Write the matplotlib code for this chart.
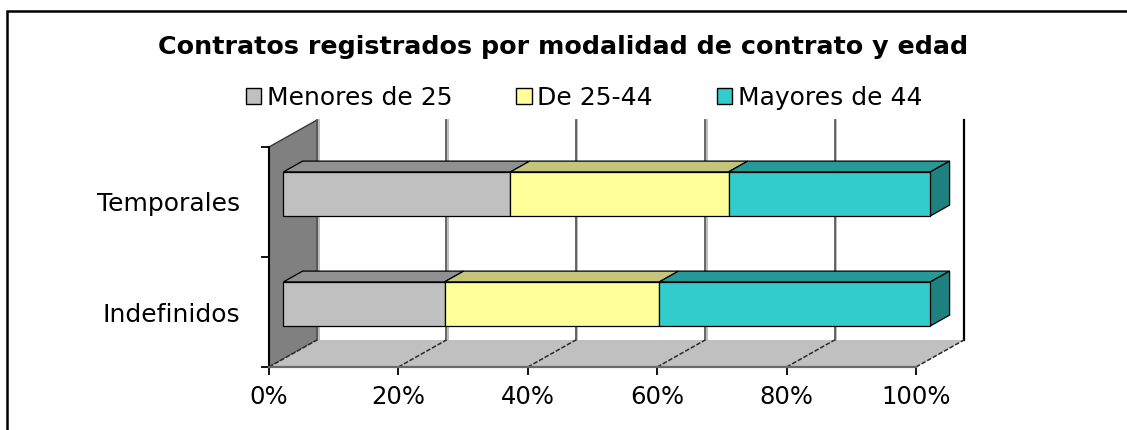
import matplotlib
matplotlib.use('Agg')
import matplotlib.pyplot as plt
from matplotlib.patches import Polygon, Rectangle, Patch
import matplotlib.transforms as mtransforms
import numpy as np

# ---------------- data ----------------
categories = ['Indefinidos', 'Temporales']
series_names = ['Menores de 25', 'De 25-44', 'Mayores de 44']
menores_25 = [24.9, 35.1]
de_25_44 = [33.2, 33.7]
mayores_44 = [41.9, 31.2]
x_ticks = [0, 20, 40, 60, 80, 100]
x_tick_labels = ['0%', '20%', '40%', '60%', '80%', '100%']
title = 'Contratos registrados por modalidad de contrato y edad'

# ---------------- style ----------------
front_colors = ['#C0C0C0', '#FFFF99', '#33CCCC']
top_colors = ['#909090', '#C4C47A', '#269999']
side_colors = ['#808080', '#B0B070', '#1F8080']

W, H = 1127, 430
fig = plt.figure(figsize=(W / 100, H / 100), dpi=100)
fig.patch.set_facecolor('white')
plt.rcParams['font.family'] = ['DejaVu Sans']

# front plane of the 3D box
ax = fig.add_axes([269 / W, (H - 367) / H, 647 / W, 220 / H])
ax.patch.set_visible(False)
xmin, xmax = 0, 100
ymin, ymax = -0.5, len(categories) - 0.5
ax.set_xlim(xmin, xmax)
ax.set_ylim(ymin, ymax)

# depth offsets in data units
DX = 48 / 647 * 100
DY = 27 / 110
F0, F1 = 0.3, 0.7     # bar depth start / end (fraction of depth)
BH = 0.4              # bar thickness (category units)

# left wall
ax.add_patch(Polygon([(xmin, ymin), (xmin, ymax), (xmin + DX, ymax + DY), (xmin + DX, ymin + DY)],
                     closed=True, facecolor='#808080', edgecolor='#3a3a3a', lw=1.0,
                     clip_on=False, zorder=1))
# floor
ax.add_patch(Polygon([(xmin, ymin), (xmax, ymin), (xmax + DX, ymin + DY), (xmin + DX, ymin + DY)],
                     closed=True, facecolor='#C0C0C0', edgecolor='none',
                     clip_on=False, zorder=1))

# back-wall gridlines with shadow
shadow_tr = mtransforms.offset_copy(ax.transData, fig=fig, x=1.6, y=0, units='dots')
for t in x_ticks:
    if t == xmax:
        continue
    ax.plot([t + DX, t + DX], [ymin + DY, ymax + DY], color='#BDBDBD', lw=1.4,
            transform=shadow_tr, clip_on=False, zorder=1.2)
    ax.plot([t + DX, t + DX], [ymin + DY, ymax + DY], color='#5A5A5A', lw=1.3,
            clip_on=False, zorder=1.3)
# right back edge
ax.plot([xmax + DX, xmax + DX], [ymin + DY, ymax + DY], color='black', lw=1.6,
        clip_on=False, zorder=1.3)
# floor gridlines (slanted)
for t in x_ticks:
    ax.plot([t, t + DX], [ymin, ymin + DY], color='#2a2a2a', lw=1.1,
            ls=(0, (3, 1.2)), clip_on=False, zorder=1.4)

# bars
series = [menores_25, de_25_44, mayores_44]
for i, cat in enumerate(categories):
    left = 0.0
    for j, vals in enumerate(series):
        v = vals[i]
        l, r = left, left + v
        yb, yt = i - BH / 2, i + BH / 2
        # top face
        ax.add_patch(Polygon([(l + F0 * DX, yt + F0 * DY), (r + F0 * DX, yt + F0 * DY),
                              (r + F1 * DX, yt + F1 * DY), (l + F1 * DX, yt + F1 * DY)],
                             closed=True, facecolor=top_colors[j], edgecolor='black',
                             lw=0.9, clip_on=False, zorder=3))
        # front face
        ax.add_patch(Polygon([(l + F0 * DX, yb + F0 * DY), (r + F0 * DX, yb + F0 * DY),
                              (r + F0 * DX, yt + F0 * DY), (l + F0 * DX, yt + F0 * DY)],
                             closed=True, facecolor=front_colors[j], edgecolor='black',
                             lw=0.9, clip_on=False, zorder=3.2))
        if j == len(series) - 1:
            ax.add_patch(Polygon([(r + F0 * DX, yb + F0 * DY), (r + F0 * DX, yt + F0 * DY),
                                  (r + F1 * DX, yt + F1 * DY), (r + F1 * DX, yb + F1 * DY)],
                                 closed=True, facecolor=side_colors[j], edgecolor='black',
                                 lw=0.9, clip_on=False, zorder=3.1))
        left = r

# axes / ticks
for s in ['top', 'right']:
    ax.spines[s].set_visible(False)
ax.spines['left'].set_color('black')
ax.spines['left'].set_linewidth(1.5)
ax.spines['left'].set_zorder(2)
ax.spines['bottom'].set_color('#6a6a6a')
ax.spines['bottom'].set_linewidth(1.6)
ax.spines['bottom'].set_zorder(2)

ax.set_xticks(x_ticks)
ax.set_xticklabels(x_tick_labels)
ax.tick_params(axis='x', direction='out', length=6, width=1.3, color='black',
               pad=7, labelsize=17.5, labelcolor='black')
ax.set_yticks(np.arange(len(categories) + 1) - 0.5)
ax.set_yticklabels([''] * (len(categories) + 1))
ax.set_yticks(np.arange(len(categories)), minor=True)
ax.set_yticklabels(categories, minor=True)
ax.tick_params(axis='y', which='major', direction='out', length=5.5, width=1.3, color='black')
ax.tick_params(axis='y', which='minor', length=0, pad=21, labelsize=18)

# title
fig.text(0.5, 1 - 47 / H, title, ha='center', va='center', fontsize=18.3, fontweight='bold')

# legend
handles = [Patch(facecolor=c, edgecolor='black', lw=1.0) for c in front_colors]
fig.legend(handles, series_names, loc='center', bbox_to_anchor=(584 / W, 1 - 98 / H),
           ncol=3, frameon=False, fontsize=18, handlelength=0.62, handleheight=0.62,
           handletextpad=0.22, columnspacing=2.55, borderpad=0, borderaxespad=0)

# outer frame (left and top edges visible)
fig.add_artist(Rectangle((7 / W, -0.5), 2.0, (1 - 10.5 / H) + 0.5, transform=fig.transFigure,
                         fill=False, edgecolor='black', lw=1.8, clip_on=False))

fig.savefig('out.png', dpi=100)
